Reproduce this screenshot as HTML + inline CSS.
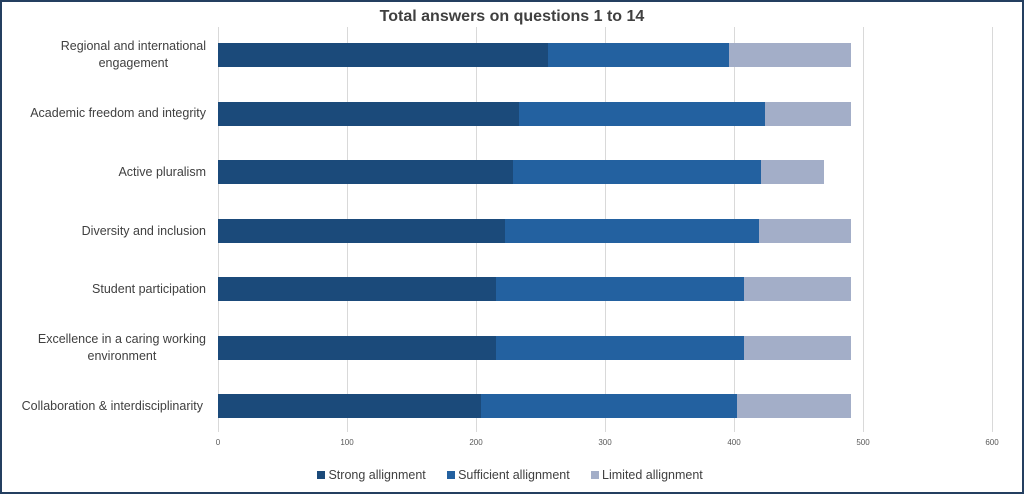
<!DOCTYPE html>
<html><head><style>
body{margin:0;background:#fff;}
.f{position:absolute;left:0;top:0;width:1020px;height:490px;border:2px solid #243f60;background:#fff;font-family:"Liberation Sans",sans-serif;}
.g{position:absolute;top:25px;height:405px;width:1px;background:#d9d9d9;}
.b{position:absolute;height:24px;}
.s{background:#1b4a7a}.u{background:#2361a0}.l{background:#a3aec8}
.lab{position:absolute;right:816px;text-align:right;font-size:12.5px;color:#404040;line-height:17px;white-space:nowrap;}
.lab span{display:inline-block;text-align:center;}
.t{position:absolute;top:436px;font-size:8px;color:#595959;width:40px;text-align:center;}
</style></head><body><div class="f">
<div style="position:absolute;top:6px;left:0;width:1020px;text-align:center;font-size:16px;font-weight:bold;color:#404040;">Total answers on questions 1 to 14</div>
<div class="g" style="left:216px"></div><div class="g" style="left:345px"></div><div class="g" style="left:474px"></div><div class="g" style="left:603px"></div><div class="g" style="left:732px"></div><div class="g" style="left:861px"></div><div class="g" style="left:990px"></div>
<div class="t" style="left:196px">0</div><div class="t" style="left:325px">100</div><div class="t" style="left:454px">200</div><div class="t" style="left:583px">300</div><div class="t" style="left:712px">400</div><div class="t" style="left:841px">500</div><div class="t" style="left:970px">600</div>

<div class="lab" style="top:36px"><span>Regional and international<br>engagement</span></div>
<div class="b s" style="top:41px;left:216px;width:330px"></div><div class="b u" style="top:41px;left:546px;width:181px"></div><div class="b l" style="top:41px;left:727px;width:122px"></div>

<div class="lab" style="top:103px">Academic freedom and integrity</div>
<div class="b s" style="top:100px;left:216px;width:301px"></div><div class="b u" style="top:100px;left:517px;width:246px"></div><div class="b l" style="top:100px;left:763px;width:86px"></div>

<div class="lab" style="top:162px">Active pluralism</div>
<div class="b s" style="top:158px;left:216px;width:295px"></div><div class="b u" style="top:158px;left:511px;width:248px"></div><div class="b l" style="top:158px;left:759px;width:63px"></div>

<div class="lab" style="top:221px">Diversity and inclusion</div>
<div class="b s" style="top:217px;left:216px;width:287px"></div><div class="b u" style="top:217px;left:503px;width:254px"></div><div class="b l" style="top:217px;left:757px;width:92px"></div>

<div class="lab" style="top:279px">Student participation</div>
<div class="b s" style="top:275px;left:216px;width:278px"></div><div class="b u" style="top:275px;left:494px;width:248px"></div><div class="b l" style="top:275px;left:742px;width:107px"></div>

<div class="lab" style="top:329px"><span>Excellence in a caring working<br>environment</span></div>
<div class="b s" style="top:334px;left:216px;width:278px"></div><div class="b u" style="top:334px;left:494px;width:248px"></div><div class="b l" style="top:334px;left:742px;width:107px"></div>

<div class="lab" style="top:396px;right:819px">Collaboration &amp; interdisciplinarity</div>
<div class="b s" style="top:392px;left:216px;width:263px"></div><div class="b u" style="top:392px;left:479px;width:256px"></div><div class="b l" style="top:392px;left:735px;width:114px"></div>

<div style="position:absolute;top:466px;left:315px;font-size:12.5px;color:#404040;white-space:nowrap">
<span style="display:inline-block;width:8px;height:8px;background:#1b4a7a"></span> Strong allignment&nbsp;&nbsp;&nbsp;&nbsp;&nbsp;
<span style="display:inline-block;width:8px;height:8px;background:#2361a0"></span> Sufficient allignment&nbsp;&nbsp;&nbsp;&nbsp;&nbsp;
<span style="display:inline-block;width:8px;height:8px;background:#a3aec8"></span> Limited allignment</div>
</div></body></html>
